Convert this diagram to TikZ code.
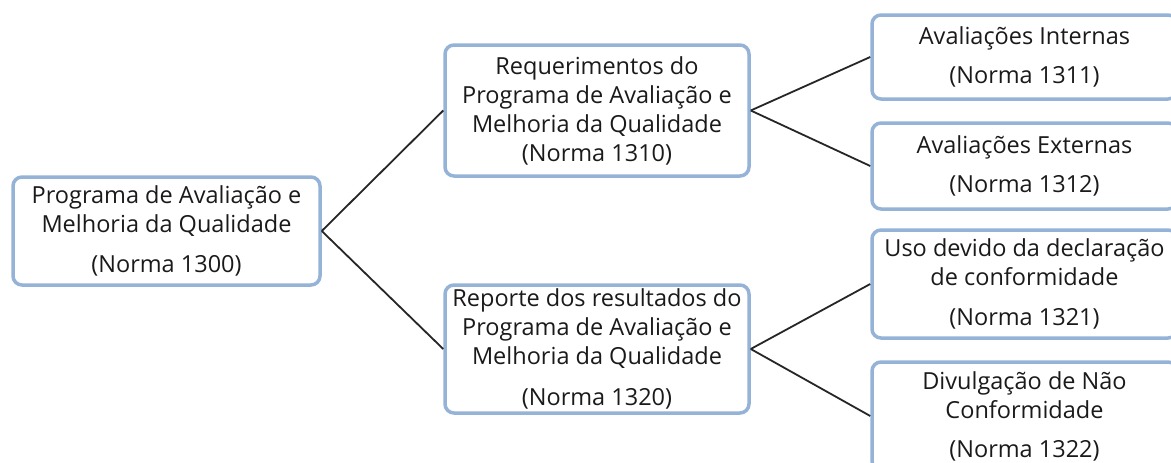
\documentclass[tikz,border=0pt]{standalone}
\usepackage{fontspec}
\setmainfont{Open Sans}
\definecolor{boxblue}{HTML}{95B3D7}
\definecolor{txt}{HTML}{1A1A1A}
\tikzset{
  box/.style={draw=boxblue, line width=3.5pt, rounded corners=9pt, fill=white,
    inner sep=0pt, align=center, text=txt,
    font=\fontsize{23.5}{29}\selectfont},
  conn/.style={draw=black!85, line width=1.8pt}
}
\begin{document}
\begin{tikzpicture}[x=1pt,y=-1pt]
\clip (0,0) rectangle (1171,463);
\useasboundingbox (0,0) rectangle (1171,463);
\fill[white] (0,0) rectangle (1171,463);
\node[box, minimum width=307pt, minimum height=108pt] (a) at (166.5,231)
  {Programa de Avaliação e\\Melhoria da Qualidade\\[11pt](Norma 1300)};
\node[box, minimum width=304pt, minimum height=131pt] (b) at (597,110.5)
  {Requerimentos do\\Programa de Avaliação e\\Melhoria da Qualidade\\(Norma 1310)};
\node[box, minimum width=304pt, minimum height=128pt] (c) at (597,349)
  {Reporte dos resultados do\\Programa de Avaliação e\\Melhoria da Qualidade\\[12pt](Norma 1320)};
\node[box, minimum width=305pt, minimum height=84pt] (d1) at (1024.5,57)
  {Avaliações Internas\\[10pt](Norma 1311)};
\node[box, minimum width=305pt, minimum height=86pt] (d2) at (1024.5,166)
  {Avaliações Externas\\[10pt](Norma 1312)};
\node[box, minimum width=305pt, minimum height=108pt] (d3) at (1024.5,284)
  {Uso devido da declaração\\de conformidade\\[11pt](Norma 1321)};
\node[box, minimum width=305pt, minimum height=108pt] (d4) at (1024.5,416)
  {Divulgação de Não\\Conformidade\\[10pt](Norma 1322)};
\draw[conn] (a.east) -- (b.west);
\draw[conn] (a.east) -- (c.west);
\draw[conn] (b.east) -- (d1.west);
\draw[conn] (b.east) -- (d2.west);
\draw[conn] (c.east) -- (d3.west);
\draw[conn] (c.east) -- (d4.west);
\end{tikzpicture}
\end{document}
